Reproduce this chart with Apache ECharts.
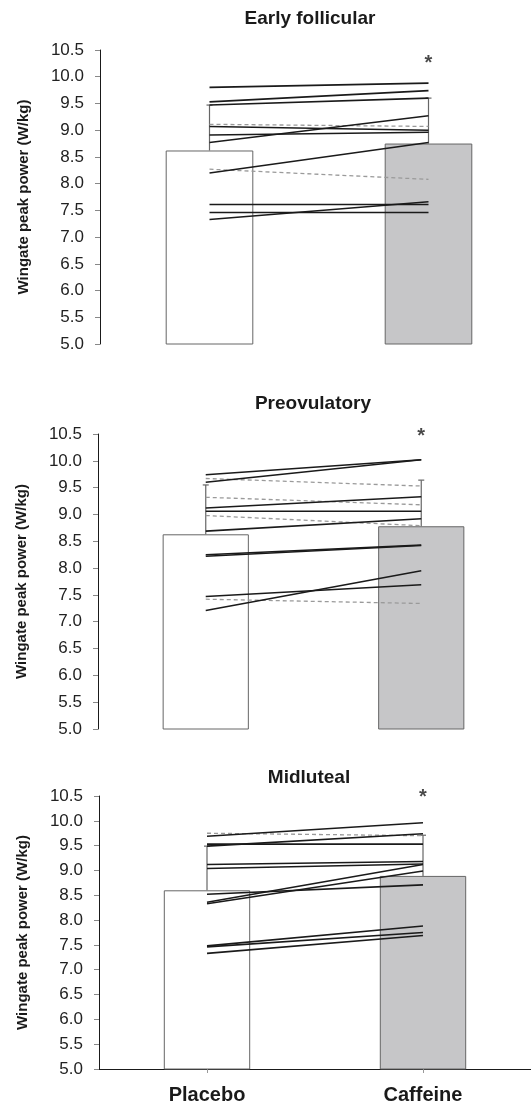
<!DOCTYPE html>
<html>
<head>
<meta charset="utf-8">
<script src="https://cdn.jsdelivr.net/npm/echarts@6/dist/echarts.min.js"></script>
<style>
  html, body { margin: 0; padding: 0; background: #fff; overflow: hidden; }
  #chart { width: 560px; height: 1107px; }
</style>
</head>
<body>
<div id="chart"></div>
<script>
// data
const categories = ['Placebo', 'Caffeine']
const panelTitles = ['Early follicular', 'Preovulatory', 'Midluteal']
const yAxisName = 'Wingate peak power (W/kg)'

const earlyMean = [8.62, 8.75]
const earlyErrTop = [9.47, 9.60]
const earlyPlacebo = [9.80, 9.53, 9.47, 9.11, 9.07, 8.91, 8.77, 8.20, 8.27, 7.61, 7.46, 7.33]
const earlyCaffeine = [9.88, 9.74, 9.60, 9.07, 9.00, 8.96, 9.27, 8.77, 8.08, 7.61, 7.46, 7.66]
const earlyDashed = [0, 0, 0, 1, 0, 0, 0, 0, 1, 0, 0, 0]

const preovMean = [8.63, 8.78]
const preovErrTop = [9.55, 9.64]
const preovPlacebo = [9.74, 9.60, 9.67, 9.32, 9.12, 9.06, 8.98, 8.69, 8.25, 8.22, 7.47, 7.42, 7.21]
const preovCaffeine = [10.02, 10.02, 9.53, 9.18, 9.33, 9.06, 8.79, 8.92, 8.43, 8.42, 7.69, 7.34, 7.95]
const preovDashed = [0, 0, 1, 1, 0, 0, 1, 0, 0, 0, 0, 1, 0]

const midMean = [8.60, 8.89]
const midErrTop = [9.49, 9.71]
const midPlacebo = [9.69, 9.75, 9.49, 9.53, 9.12, 9.04, 8.52, 8.36, 8.33, 7.48, 7.46, 7.33]
const midCaffeine = [9.96, 9.70, 9.74, 9.53, 9.18, 9.13, 8.71, 9.12, 8.99, 7.88, 7.75, 7.69]
const midDashed = [0, 1, 0, 0, 0, 0, 0, 0, 0, 0, 0, 0]

// significance marker height on the caffeine bar
const asteriskValue = [10.24, 10.45, 10.48]

const panels = [
  { mean: earlyMean, errTop: earlyErrTop, pla: earlyPlacebo, caf: earlyCaffeine, dashed: earlyDashed },
  { mean: preovMean, errTop: preovErrTop, pla: preovPlacebo, caf: preovCaffeine, dashed: preovDashed },
  { mean: midMean, errTop: midErrTop, pla: midPlacebo, caf: midCaffeine, dashed: midDashed }
]

const FONT = "'Liberation Sans', Arial, sans-serif"

// the canvas is a bit wider than the window so the top panel can run past the edge
const grids = [
  { left: 100, top: 50, width: 438, height: 294 },
  { left: 98, top: 434, width: 431, height: 295 },
  { left: 99, top: 796, width: 432, height: 273 }
]
const titleCenters = [[310, 20], [313, 405], [309, 779]]

const xAxes = grids.map((g, i) => ({
  type: 'category',
  gridIndex: i,
  data: categories,
  axisLine: { show: i === 2, lineStyle: { color: '#1a1a1a', width: 1.2 } },
  axisTick: { show: i === 2, alignWithLabel: true, length: 4, lineStyle: { color: '#999' } },
  axisLabel: {
    show: i === 2,
    color: '#1a1a1a',
    fontFamily: FONT,
    fontWeight: 'bold',
    fontSize: 20,
    margin: 16
  }
}))

const yAxes = grids.map((g, i) => ({
  type: 'value',
  gridIndex: i,
  min: 5,
  max: 10.5,
  interval: 0.5,
  name: yAxisName,
  nameLocation: 'middle',
  nameGap: 69,
  nameTextStyle: { color: '#1a1a1a', fontFamily: FONT, fontWeight: 'bold', fontSize: 15 },
  axisLine: { show: true, lineStyle: { color: '#1a1a1a', width: 1 } },
  axisTick: { show: true, length: 5, lineStyle: { color: '#888' } },
  axisLabel: {
    color: '#222',
    fontFamily: FONT,
    fontSize: 17,
    margin: 16,
    formatter: v => v.toFixed(1)
  },
  splitLine: { show: false }
}))

const series = []
panels.forEach((p, i) => {
  series.push({
    type: 'bar',
    xAxisIndex: i,
    yAxisIndex: i,
    barWidth: '40%',
    data: p.mean.map((v, k) => ({
      value: v,
      itemStyle: { color: k === 0 ? '#ffffff' : '#c6c6c8', borderColor: '#666', borderWidth: 1 }
    })),
    z: 1
  })
  series.push({
    type: 'custom',
    xAxisIndex: i,
    yAxisIndex: i,
    data: p.mean.map((v, k) => [k, v, p.errTop[k]]),
    encode: { x: 0, y: [1, 2] },
    z: 2,
    renderItem: (params, api) => {
      const lo = api.coord([api.value(0), api.value(1)])
      const hi = api.coord([api.value(0), api.value(2)])
      const style = { stroke: '#666', lineWidth: 1.2 }
      return {
        type: 'group',
        children: [
          { type: 'line', shape: { x1: lo[0], y1: lo[1], x2: hi[0], y2: hi[1] }, style },
          { type: 'line', shape: { x1: hi[0] - 3, y1: hi[1], x2: hi[0] + 3, y2: hi[1] }, style }
        ]
      }
    }
  })
  p.pla.forEach((v, k) => {
    const dashed = p.dashed[k] === 1
    series.push({
      type: 'line',
      xAxisIndex: i,
      yAxisIndex: i,
      data: [v, p.caf[k]],
      symbol: 'none',
      silent: true,
      z: dashed ? 3 : 4,
      lineStyle: dashed
        ? { color: '#9a9a9a', width: 1.3, type: [4, 3] }
        : { color: '#1a1a1a', width: 1.6 }
    })
  })
  series.push({
    type: 'scatter',
    xAxisIndex: i,
    yAxisIndex: i,
    clip: false,
    symbolSize: 0,
    data: [[categories[1], asteriskValue[i]]],
    label: {
      show: true,
      position: 'inside',
      formatter: '*',
      color: '#1a1a1a',
      fontFamily: FONT,
      fontWeight: 'bold',
      fontSize: 20
    },
    z: 5
  })
})

const chart = echarts.init(document.getElementById('chart'))
chart.setOption({
  backgroundColor: '#ffffff',
  animation: false,
  title: panelTitles.map((t, i) => ({
    text: t,
    left: titleCenters[i][0],
    top: titleCenters[i][1] - 11,
    textAlign: 'center',
    padding: 0,
    textStyle: { color: '#1a1a1a', fontFamily: FONT, fontWeight: 'bold', fontSize: 19 }
  })),
  grid: grids,
  xAxis: xAxes,
  yAxis: yAxes,
  series
})
</script>
</body>
</html>
